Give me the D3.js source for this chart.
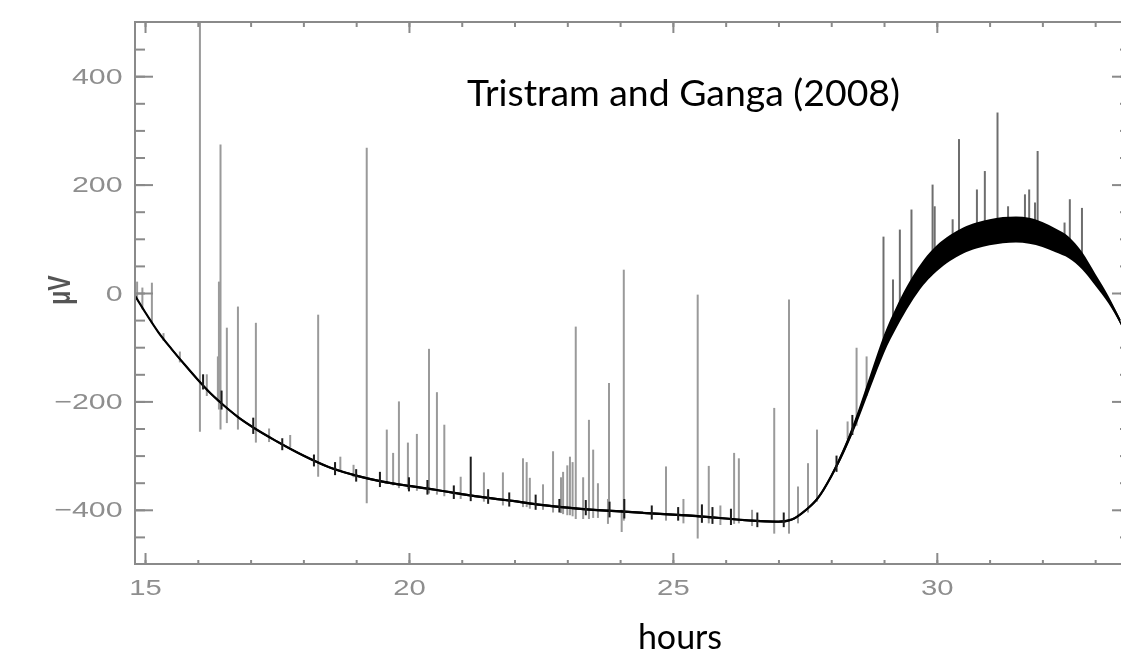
<!DOCTYPE html>
<html>
<head>
<meta charset="utf-8">
<script src="https://cdn.jsdelivr.net/npm/d3@7"></script>
<style>
  html, body { margin: 0; padding: 0; background: #fff; }
  svg { display: block; }
</style>
</head>
<body>
<svg id="chart" width="1121" height="662"></svg>
<script>
// Bolometer signal: smooth level and half-width of the dark band (μV)
const hours  = [14.81, 15.0, 15.25, 15.5, 15.75, 16.0, 16.25, 16.5, 16.75, 17.0, 17.5, 18.0, 18.5, 19.0, 19.5,
                20.0, 20.5, 21.0, 21.5, 22.0, 22.5, 23.0, 23.5, 24.0, 24.5, 25.0, 25.5, 26.0, 26.5, 27.0,
                27.25, 27.5, 27.75, 28.0, 28.25, 28.5, 28.75, 29.0, 29.25, 29.5, 29.75, 30.0, 30.25, 30.5,
                30.75, 31.0, 31.25, 31.5, 31.75, 32.0, 32.25, 32.5, 32.75, 33.0, 33.25, 33.5, 33.66];
const level  = [-5, -35, -72, -103, -132, -160, -186, -208, -228, -245, -274, -300, -322, -337, -348,
                -356, -363, -371, -378, -384, -391, -396, -400, -403, -406, -409, -412, -416, -420, -422,
                -418, -402, -378, -338, -288, -228, -160, -94, -42, 2, 38, 64, 83, 97,
                106, 112, 116, 117, 115, 108, 97, 84, 60, 25, -12, -57, -88];
const spread = [2, 2, 2, 2, 2, 2, 2, 2, 2, 2, 2, 2, 2, 2, 2,
                2, 2, 2, 2, 2, 2, 2, 2, 2, 2, 2, 2, 2, 2, 2,
                2, 2, 3, 4, 6, 9, 13, 17, 20, 22, 23, 24, 24, 24,
                24, 24, 24, 24, 24, 23, 22, 20, 16, 11, 7, 4, 3];

// Glitches: time (h), top and bottom of each vertical excursion (μV)
const spikeHours  = [14.85, 14.95, 15.13, 15.35, 15.66, 16.04, 16.17, 16.38, 16.40, 16.43, 16.55, 16.76, 17.10,
                     17.35, 17.75, 18.28, 18.70, 18.95, 19.20, 19.58, 19.70, 19.81, 19.98, 20.15, 20.38, 20.53,
                     20.67, 20.98, 21.42, 21.78, 22.16, 22.23, 22.29, 22.54, 22.73, 22.88, 22.92, 23.00, 23.05,
                     23.10, 23.16, 23.30, 23.41, 23.49, 23.58, 23.77, 23.79, 24.03, 24.07, 24.87, 25.20, 25.47,
                     25.68, 25.90, 26.16, 26.25, 26.50, 26.92, 27.20, 27.37, 27.56, 27.73, 28.31, 28.48, 28.67,
                     28.99, 29.17, 29.30, 29.52, 29.92, 29.96, 30.30, 30.42, 30.76, 30.91, 31.15, 31.35, 31.67,
                     31.75, 31.86, 31.91, 32.42, 32.52, 32.75];
const spikeTop    = [21, 10, 19, -74, -108, 520, -150, -117, 21, 274, -64, -25, -55,
                     -250, -262, -40, -302, -317, 268, -252, -295, -200, -276, -260, -103, -183,
                     -243, -339, -331, -331, -305, -312, -341, -353, -292, -340, -330, -318, -302,
                     -312, -62, -340, -234, -289, -351, -380, -166, -400, 43, -320, -380, -3,
                     -319, -392, -295, -305, -400, -212, -12, -357, -314, -252, -237, -101, -117,
                     104, 25, 117, 154, 200, 160, 136, 284, 191, 225, 333, 160, 182,
                     191, 167, 262, 130, 173, 157];
const spikeBottom = [-12, -30, -55, -88, -128, -256, -190, -200, -215, -252, -240, -252, -276,
                     -275, -285, -339, -330, -340, -388, -351, -355, -360, -362, -365, -370, -372,
                     -375, -380, -385, -392, -395, -395, -398, -400, -405, -406, -408, -410, -410,
                     -412, -417, -417, -417, -415, -415, -426, -412, -441, -420, -420, -425, -453,
                     -425, -428, -426, -425, -430, -444, -444, -425, -405, -385, -270, -245, -190,
                     -100, -60, -40, 0, 40, 40, 80, 80, 100, 100, 110, 110, 110,
                     110, 110, 105, 90, 80, 60];

// Short dark bursts riding on the signal (μV)
const burstHours  = [16.10, 16.45, 17.05, 17.60, 18.20, 18.60, 19.00, 19.45, 20.00, 20.35, 20.85, 21.17, 21.50,
                     21.90, 22.40, 22.85, 23.35, 23.80, 24.08, 24.60, 25.10, 25.55, 25.75, 26.10, 26.60, 27.10,
                     28.10, 28.40];
const burstTop    = [-150, -180, -230, -268, -298, -312, -325, -330, -340, -345, -355, -302, -362,
                     -368, -372, -380, -382, -385, -380, -392, -395, -390, -395, -398, -405, -405,
                     -300, -225];
const burstBottom = [-178, -215, -260, -290, -320, -336, -348, -358, -366, -372, -380, -384, -389,
                     -394, -400, -405, -410, -414, -416, -418, -420, -424, -426, -428, -432, -432,
                     -330, -262];

// Axis ticks
const xMajorTicks = [15, 20, 25, 30];
const xMinorTicks = [15, 16, 17, 18, 19, 20, 21, 22, 23, 24, 25, 26, 27, 28, 29, 30, 31, 32, 33];
const yMajorTicks = [-400, -200, 0, 200, 400];
const yMinorTicks = [-450, -400, -350, -300, -250, -200, -150, -100, -50, 0, 50, 100, 150, 200, 250, 300, 350, 400, 450];

const titleText = "Tristram and Ganga (2008)";
const xLabel = "hours";
const yLabel = "μV";

const svg = d3.select("#chart");

const frame = { left: 135, right: 1130, top: 22, bottom: 564 };
const x = d3.scaleLinear().domain([14.81, 33.66]).range([frame.left, frame.right]);
const y = d3.scaleLinear().domain([-500, 500]).range([frame.bottom, frame.top]);

const defs = svg.append("defs");
defs.append("filter").attr("id", "soft")
  .attr("x", "-5%").attr("y", "-5%").attr("width", "110%").attr("height", "110%")
  .append("feGaussianBlur").attr("stdDeviation", 0.7);
defs.append("clipPath").attr("id", "plotClip")
  .append("rect")
  .attr("x", frame.left).attr("y", frame.top)
  .attr("width", frame.right - frame.left).attr("height", frame.bottom - frame.top);

const plot = svg.append("g").attr("filter", "url(#soft)");
const data = plot.append("g").attr("clip-path", "url(#plotClip)");

const axisGrey = "#8a8a8a";
const labelGrey = "#8e8e8e";

// glitch spikes
data.append("g")
  .selectAll("line")
  .data(spikeHours)
  .join("line")
  .attr("x1", d => x(d)).attr("x2", d => x(d))
  .attr("y1", (d, i) => y(spikeTop[i]))
  .attr("y2", (d, i) => y(spikeBottom[i]))
  .attr("stroke", (d, i) => d > 28.9 ? "#6e6e6e" : "#9a9a9a")
  .attr("stroke-width", 2);

// signal band
const rows = hours.map((h, i) => ({ h, lv: level[i], sp: spread[i] }));
data.append("path")
  .datum(rows)
  .attr("d", d3.area()
    .x(d => x(d.h))
    .y0(d => y(d.lv - d.sp))
    .y1(d => y(d.lv + d.sp))
    .curve(d3.curveMonotoneX))
  .attr("fill", "#000");

data.append("path")
  .datum(rows)
  .attr("d", d3.line()
    .x(d => x(d.h))
    .y(d => y(d.lv))
    .curve(d3.curveMonotoneX))
  .attr("fill", "none")
  .attr("stroke", "#000")
  .attr("stroke-width", 2.2);

// dark bursts
data.append("g")
  .selectAll("line")
  .data(burstHours)
  .join("line")
  .attr("x1", d => x(d)).attr("x2", d => x(d))
  .attr("y1", (d, i) => y(burstTop[i]))
  .attr("y2", (d, i) => y(burstBottom[i]))
  .attr("stroke", "#1a1a1a")
  .attr("stroke-width", 2);

// frame
plot.append("rect")
  .attr("x", frame.left).attr("y", frame.top)
  .attr("width", frame.right - frame.left).attr("height", frame.bottom - frame.top)
  .attr("fill", "none").attr("stroke", axisGrey).attr("stroke-width", 2);

function styleAxis(g) {
  g.select(".domain").remove();
  g.selectAll(".tick line").attr("stroke", axisGrey).attr("stroke-width", 2);
  g.selectAll(".tick text")
    .attr("fill", labelGrey)
    .attr("font-family", "'Liberation Sans', Arial, sans-serif")
    .attr("font-size", 22);
}
const fmt = d => (d < 0 ? "\u2212" : "") + Math.abs(d);

// bottom axis
plot.append("g").attr("transform", `translate(0,${frame.bottom})`)
  .call(d3.axisBottom(x).tickValues(xMinorTicks).tickSize(-4).tickFormat(""))
  .call(styleAxis);
plot.append("g").attr("transform", `translate(0,${frame.bottom})`)
  .call(d3.axisBottom(x).tickValues(xMajorTicks).tickSize(-11).tickPadding(15).tickFormat(fmt))
  .call(styleAxis)
  .call(g => g.selectAll(".tick text").attr("transform", "scale(1.33,1)"));

// top axis
plot.append("g").attr("transform", `translate(0,${frame.top})`)
  .call(d3.axisTop(x).tickValues(xMinorTicks).tickSize(-5).tickFormat(""))
  .call(styleAxis);
plot.append("g").attr("transform", `translate(0,${frame.top})`)
  .call(d3.axisTop(x).tickValues(xMajorTicks).tickSize(-11).tickFormat(""))
  .call(styleAxis);

// left axis
plot.append("g").attr("transform", `translate(${frame.left},0)`)
  .call(d3.axisLeft(y).tickValues(yMinorTicks).tickSize(-10).tickFormat(""))
  .call(styleAxis);
plot.append("g").attr("transform", `translate(${frame.left},0)`)
  .call(d3.axisLeft(y).tickValues(yMajorTicks).tickSize(-18).tickPadding(9).tickFormat(fmt))
  .call(styleAxis)
  .call(g => g.selectAll(".tick text").attr("transform", "scale(1.38,1)"));

// right axis
plot.append("g").attr("transform", `translate(${frame.right},0)`)
  .call(d3.axisRight(y).tickValues(yMinorTicks).tickSize(-10).tickFormat(""))
  .call(styleAxis);
plot.append("g").attr("transform", `translate(${frame.right},0)`)
  .call(d3.axisRight(y).tickValues(yMajorTicks).tickSize(-18).tickFormat(""))
  .call(styleAxis);

// y-axis unit label
plot.append("text")
  .attr("transform", "translate(70,290) scale(1.35,1) rotate(-90)")
  .attr("text-anchor", "middle")
  .attr("font-family", "'Liberation Sans', Arial, sans-serif")
  .attr("font-weight", "bold")
  .attr("font-size", 23)
  .attr("fill", "#555")
  .text(yLabel);

// slide annotations
svg.append("text")
  .attr("x", 467).attr("y", 106)
  .attr("font-family", "Lato, 'Open Sans', sans-serif")
  .attr("font-size", 36)
  .attr("textLength", 433)
  .attr("lengthAdjust", "spacingAndGlyphs")
  .attr("fill", "#000")
  .text(titleText);

svg.append("text")
  .attr("x", 680).attr("y", 649)
  .attr("text-anchor", "middle")
  .attr("font-family", "Lato, 'Open Sans', sans-serif")
  .attr("font-size", 34)
  .attr("fill", "#000")
  .text(xLabel);
</script>
</body>
</html>
